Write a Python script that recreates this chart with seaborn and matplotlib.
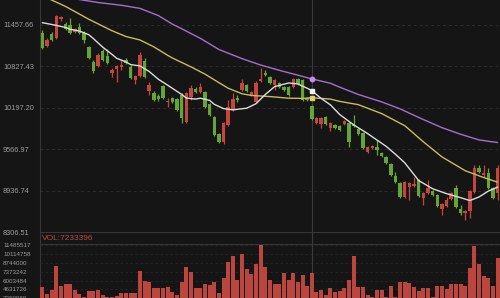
import numpy as np
import pandas as pd
import matplotlib
matplotlib.use("Agg")
import matplotlib.pyplot as plt
from matplotlib.lines import Line2D
import seaborn as sns

# ---------------- data ----------------
opens = [11336, 11139, 11321, 11260, 11549, 11473, 11458, 11351, 11427, 11336,
         11123, 10895, 10835, 11063, 10987, 10728, 10789, 10820, 10926, 10819,
         10622, 10683, 10911, 10455, 10424, 10378, 10531, 10287, 10348, 10333,
         10394, 9983, 10363, 10485, 10439, 10439, 10257, 10059, 9801, 9679,
         9938, 10166, 10340, 10470, 10546, 10394, 10287, 10607, 10728, 10667,
         10546, 10576, 10515, 10515, 10515, 10637, 10622, 10348, 10227, 9968,
         9953, 10059, 9892, 9938, 9923, 9953, 9968, 9953, 9877, 9816,
         9527, 9588, 9603, 9512, 9451, 9345, 9163, 9056, 8843, 8995,
         9010, 9102, 8828, 8904, 8935, 8874, 8661, 8707, 8813, 8980,
         8661, 8600, 8631, 8919, 9284, 9178, 9208, 8980, 8904]
closes = [11108, 11230, 11230, 11595, 11572, 11397, 11336, 11397, 11336, 11230,
          10956, 10759, 11002, 10926, 10880, 10774, 10835, 10850, 10880, 10652,
          10683, 11002, 10667, 10546, 10318, 10333, 10348, 10302, 10287, 10166,
          10044, 10424, 10500, 10439, 10515, 10211, 10090, 9786, 9679, 9968,
          10211, 10333, 10318, 10576, 10455, 10439, 10576, 10630, 10698, 10576,
          10622, 10515, 10470, 10394, 10637, 10561, 10318, 10318, 10029, 10044,
          10044, 9953, 9968, 9892, 9862, 9998, 9679, 9923, 9801, 9588,
          9603, 9618, 9558, 9466, 9360, 9178, 9071, 8843, 9071, 9056,
          9041, 8859, 8904, 8980, 8874, 8707, 8737, 8798, 8904, 8691,
          8600, 8631, 8935, 9284, 9223, 9208, 8980, 8828, 9284]
highs = [11382, 11260, 11351, 11610, 11595, 11503, 11564, 11412, 11488, 11367,
         11139, 10926, 11032, 11093, 11093, 10804, 10850, 10926, 10956, 10850,
         10698, 11047, 10956, 10591, 10455, 10409, 10546, 10348, 10363, 10348,
         10424, 10439, 10546, 10515, 10576, 10455, 10272, 10075, 9816, 9983,
         10318, 10424, 10394, 10637, 10561, 10455, 10607, 10804, 10774, 10683,
         10637, 10591, 10531, 10531, 10652, 10652, 10637, 10363, 10242, 10059,
         10059, 10075, 9983, 9953, 9938, 10014, 9983, 10090, 9892, 9831,
         9618, 9634, 9710, 9527, 9466, 9360, 9223, 9071, 9087, 9071,
         9147, 9117, 8919, 9102, 8950, 8889, 8752, 8843, 8919, 9026,
         8722, 8646, 8950, 9330, 9330, 9330, 9284, 8995, 9330]
lows = [11093, 11123, 11215, 11245, 11518, 11382, 11321, 11336, 11321, 11184,
        10941, 10728, 10819, 10911, 10865, 10667, 10591, 10774, 10865, 10637,
        10561, 10667, 10652, 10394, 10303, 10303, 10333, 10211, 10272, 10150,
        9968, 9968, 10318, 10424, 10424, 10196, 10075, 9771, 9664, 9649,
        9923, 10150, 10287, 10455, 10439, 10379, 10272, 10591, 10683, 10561,
        10470, 10500, 10455, 10379, 10500, 10546, 10303, 10303, 10014, 9953,
        9892, 9938, 9847, 9877, 9847, 9938, 9603, 9907, 9786, 9573,
        9512, 9573, 9482, 9451, 9345, 9163, 9056, 8828, 8828, 8798,
        8995, 8843, 8722, 8889, 8859, 8691, 8570, 8691, 8798, 8676,
        8570, 8494, 8524, 8904, 9208, 9147, 8965, 8813, 8798]
volumes = [5020000, 4000000, 4480000, 8340000, 5180000, 5440000, 5440000, 4480000, 3850000, 3510000,
           4350000, 4440000, 4510000, 3780000, 3510000, 3510000, 3620000, 4160000, 4160000, 4160000,
           4160000, 7540000, 5910000, 5720000, 4820000, 4820000, 4820000, 5020000, 4200000, 3780000,
           5850000, 8180000, 7310000, 4910000, 4910000, 5490000, 5330000, 5850000, 4130000, 6380000,
           8960000, 9900000, 6060000, 10160000, 7820000, 7040000, 8560000, 11485517, 8140000, 6060000,
           5440000, 5440000, 7150000, 6110000, 7150000, 5850000, 6890000, 5180000, 7233396, 4290000,
           4510000, 3780000, 4820000, 4240000, 4400000, 4940000, 6160000, 9880000, 5020000, 5020000,
           3700000, 3460000, 4480000, 4480000, 3510000, 5180000, 3390000, 5720000, 5720000, 5600000,
           4990000, 4370000, 4790000, 4940000, 3510000, 5130000, 5130000, 4710000, 5490000, 5490000,
           5490000, 5130000, 7930000, 11410000, 8680000, 6770000, 6350000, 5130000, 9540000]

ma_short_idx = [0, 3, 5, 6, 8, 10, 11, 13, 15, 16, 18, 19, 21, 23, 25, 27, 30, 31, 33, 34,
                36, 37, 39, 41, 44, 46, 48, 50, 53, 55, 57, 58, 60, 62, 64, 67, 70, 74, 76, 78,
                81, 84, 87, 90, 92, 94, 96, 98]
ma_short = [11493, 11452, 11420, 11392, 11365, 11310, 11250, 11120, 11010, 10951,
            10895, 10855, 10835, 10750, 10630, 10540, 10400, 10345, 10330, 10343,
            10310, 10250, 10185, 10166, 10191, 10260, 10400, 10520, 10575, 10560,
            10495, 10459, 10340, 10242, 10095, 9938, 9805, 9610, 9490, 9360,
            9090, 8965, 8890, 8830, 8785, 8840, 8930, 8990]
ma_mid_idx = [0, 5, 10, 15, 18, 21, 24, 27, 28, 32, 35, 38, 40, 43, 45, 49, 53, 56, 58, 62,
              64, 68, 73, 78, 82, 86, 91, 95, 98]
ma_mid = [11903, 11740, 11545, 11370, 11282, 11230, 11125, 10995, 10955, 10820,
          10710, 10580, 10495, 10410, 10385, 10368, 10343, 10340, 10350, 10330,
          10295, 10245, 10110, 9925, 9680, 9450, 9240, 9135, 9065]
ma_long_idx = [0, 4, 8, 12, 17, 21, 25, 28, 30, 34, 38, 43, 47, 51, 56, 58, 62, 64, 68, 73,
               77, 81, 86, 90, 94, 98]
ma_long = [11929, 11885, 11845, 11800, 11758, 11711, 11600, 11470, 11400, 11255,
           11085, 10945, 10848, 10768, 10675, 10637, 10571, 10511, 10400, 10288,
           10181, 10050, 9895, 9795, 9708, 9668]

price_ticks = [11457.66, 10827.43, 10197.20, 9566.97, 8936.74, 8306.51]
vol_ticks = [11485517, 10114758, 8744000, 7373242, 6003484, 4631726, 3260969]
cursor_index = 58

# ---------------- style ----------------
BG = "#151515"
RED = "#c4463c"
GREEN = "#64a534"
VOLRED = "#bb463d"
GRID = "#2b2b2b"
SPINE = "#363636"
LABEL = "#9d9d9d"

sns.set_theme(style="dark", rc={"axes.facecolor": BG, "figure.facecolor": BG,
                                "savefig.facecolor": BG})
plt.rcParams["font.family"] = ["Liberation Sans", "DejaVu Sans"]

W, H = 500, 298
fig = plt.figure(figsize=(W / 100, H / 100), dpi=100)
fig.patch.set_facecolor(BG)

left_px, main_bot_px, vol_top_px = 40, 232, 244
ax = fig.add_axes([left_px / W, 1 - main_bot_px / H, 1 - left_px / W, main_bot_px / H])
vol_zero_px = 319.2
axv = fig.add_axes([left_px / W, 1 - vol_zero_px / H, 1 - left_px / W, (vol_zero_px - vol_top_px) / H])

XMIN, XMAX = -0.5, 98.5
YMIN, YMAX = 8306.51, 11838.0
VTOP = 11719169

df = pd.DataFrame({"idx": np.arange(len(opens)), "open": opens, "close": closes,
                   "high": highs, "low": lows, "vol": volumes})
up = df["close"] >= df["open"]
colors = np.where(up, RED, GREEN)

# candles
ax.vlines(df["idx"], df["low"], df["high"], colors=colors, linewidth=0.9, zorder=3)
body_bottom = np.minimum(df["open"], df["close"])
body_h = np.maximum((df["close"] - df["open"]).abs(), 14)
ax.bar(df["idx"], body_h, bottom=body_bottom, width=0.74, color=colors, linewidth=0, zorder=4)

# moving average lines
sns.lineplot(x=ma_long_idx, y=ma_long, ax=ax, color="#a46fcf", linewidth=1.0,
             estimator=None, sort=False, zorder=5)
sns.lineplot(x=ma_mid_idx, y=ma_mid, ax=ax, color="#c8bc5e", linewidth=1.0,
             estimator=None, sort=False, zorder=5)
sns.lineplot(x=ma_short_idx, y=ma_short, ax=ax, color="#dcdcdc", linewidth=1.0,
             estimator=None, sort=False, zorder=6)

# cursor markers
ci = ma_long_idx.index(cursor_index)
ax.plot(cursor_index, ma_long[ci], "o", color="#c98ae8", markersize=3.2, zorder=8)
ci = ma_short_idx.index(cursor_index)
ax.plot(cursor_index, ma_short[ci], "s", color="#f0f0f0", markersize=3.0, zorder=8)
ci = ma_mid_idx.index(cursor_index)
ax.plot(cursor_index, ma_mid[ci], "s", color="#e0d070", markersize=3.0, zorder=8)

ax.set_xlim(XMIN, XMAX)
ax.set_ylim(YMIN, YMAX)
ax.set_xticks([])
ax.set_yticks(price_ticks)
ax.set_yticklabels([f"{t:.2f}" for t in price_ticks])
ax.yaxis.grid(True, color=GRID, linestyle=(0, (3, 3)), linewidth=0.7)
ax.xaxis.grid(False)
ax.tick_params(axis="y", length=0, pad=26.6, labelsize=5.3, labelcolor=LABEL)
for t in ax.get_yticklabels():
    t.set_horizontalalignment("left")
for s in ["top", "right"]:
    ax.spines[s].set_visible(False)
for s in ["left", "bottom"]:
    ax.spines[s].set_color(SPINE)
    ax.spines[s].set_linewidth(0.8)
ax.set_xlabel("")
ax.set_ylabel("")
ax.axvline(cursor_index, color="#3a3a3a", linewidth=0.8, zorder=1)

# volume bars
sns.barplot(x=df["idx"], y=df["vol"], ax=axv, native_scale=True, color=VOLRED,
            saturation=1, width=0.86, errorbar=None, linewidth=0, zorder=3)
axv.set_xlim(XMIN, XMAX)
axv.set_ylim(0, VTOP)
axv.set_xticks([])
axv.set_yticks(vol_ticks)
axv.set_yticklabels([str(v) for v in vol_ticks])
axv.yaxis.grid(True, color="#262626", linestyle=(0, (3, 3)), linewidth=0.6)
axv.xaxis.grid(False)
axv.tick_params(axis="y", length=0, pad=26.6, labelsize=4.5, labelcolor=LABEL)
for t in axv.get_yticklabels():
    t.set_horizontalalignment("left")
for s in ["right", "bottom"]:
    axv.spines[s].set_visible(False)
for s in ["left", "top"]:
    axv.spines[s].set_color(SPINE)
    axv.spines[s].set_linewidth(0.8)
axv.set_xlabel("")
axv.set_ylabel("")
axv.axvline(cursor_index, color="#3a3a3a", linewidth=0.8, zorder=1)

# cursor line through the gap between panels
xf = (left_px + (cursor_index - XMIN) / (XMAX - XMIN) * (W - left_px)) / W
fig.add_artist(Line2D([xf, xf], [1 - vol_top_px / H, 1 - main_bot_px / H],
                      color="#3a3a3a", linewidth=0.8))
fig.add_artist(Line2D([left_px / W, left_px / W], [1 - vol_top_px / H, 1 - main_bot_px / H],
                      color=SPINE, linewidth=0.8))

fig.text(42 / W, 1 - 238.5 / H, f"VOL:{volumes[cursor_index]}", color=VOLRED,
         fontsize=6.0, ha="left", va="center")

fig.savefig("out.png", dpi=100, facecolor=BG)
